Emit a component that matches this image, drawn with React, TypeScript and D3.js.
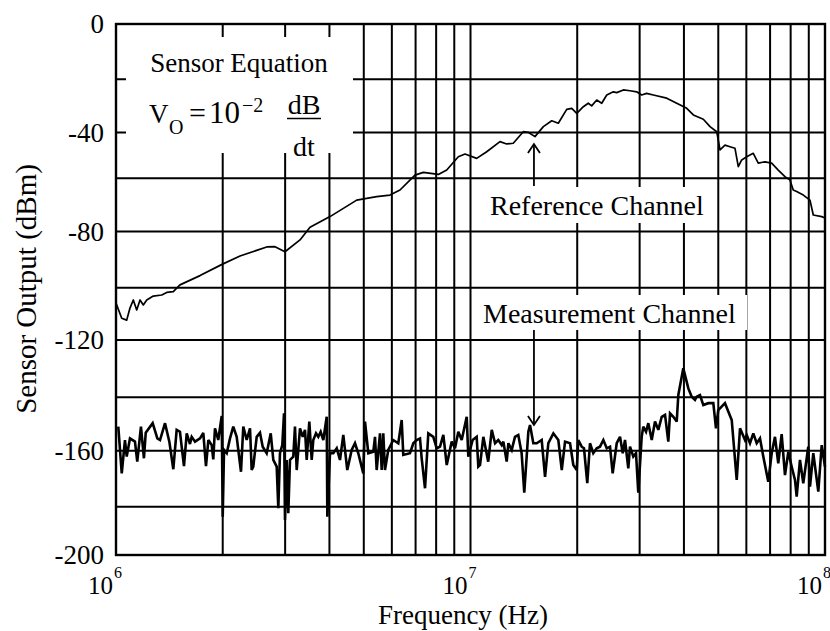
import React from "react";
import * as d3 from "d3";

// ---------- data ----------
const refFreqMHz = [1.000,1.038,1.072,1.095,1.119,1.144,1.169,1.194,1.221,1.274,1.346,1.390,1.451,1.515,1.726,1.991,2.238,2.662,2.809,2.997,3.304,3.526,4.015,4.775,5.437,5.929,6.326,6.973,7.361,8.116,8.569,9.239,9.650,10.41,11.11,12.11,12.65,13.20,14.09,14.55,15.20,16.05,16.95,17.69,18.68,19.30,19.94,20.81,21.49,21.97,22.70,23.45,24.23,25.29,25.85,26.98,28.18,29.43,30.40,31.40,32.79,35.77,38.17,40.74,42.52,45.37,47.39,49.49,50.00,50.56,52.23,53.95,55.73,56.94,58.21,60.13,62.76,64.83,67.70,70.72,73.81,77.09,79.63,81.36,83.18,86.86,90.71,92.68,97.88,100];
const refDbm = [-105.9,-111.7,-112.4,-107.8,-104.7,-108.5,-104.7,-106.6,-104.7,-103.2,-102.8,-101.8,-101.5,-99.0,-95.7,-91.7,-88.7,-85.5,-85.4,-87.2,-83.0,-78.4,-74.4,-68.2,-66.9,-66.3,-64.4,-58.6,-57.4,-58.3,-56.4,-50.6,-49.4,-51.3,-48.4,-44.0,-45.0,-44.7,-39.7,-39.9,-41.8,-37.8,-35.6,-36.5,-31.3,-30.9,-32.8,-30.3,-29.0,-30.0,-27.8,-29.0,-25.9,-24.7,-25.0,-24.0,-24.3,-24.7,-25.9,-25.3,-25.9,-27.1,-29.0,-30.9,-33.4,-35.0,-37.8,-39.7,-43.3,-47.6,-45.5,-46.2,-46.9,-54.9,-52.0,-50.6,-49.1,-53.4,-52.8,-53.4,-56.4,-59.3,-60.6,-64.4,-65.0,-66.3,-68.2,-73.8,-74.4,-74.9];

const measFreqMHz = [1.015,1.038,1.060,1.072,1.095,1.131,1.148,1.176,1.199,1.213,1.269,1.308,1.331,1.375,1.414,1.451,1.483,1.515,1.555,1.583,1.617,1.635,1.671,1.726,1.763,1.794,1.822,1.862,1.881,1.902,1.943,1.987,2.000,2.017,2.053,2.097,2.142,2.190,2.252,2.286,2.337,2.388,2.414,2.439,2.494,2.548,2.593,2.661,2.732,2.778,2.840,2.870,2.901,2.945,2.978,2.997,3.030,3.062,3.096,3.163,3.198,3.234,3.304,3.363,3.413,3.451,3.510,3.565,3.602,3.666,3.721,3.779,3.844,3.930,3.946,4.015,4.102,4.194,4.284,4.377,4.492,4.622,4.722,4.824,4.984,5.040,5.149,5.319,5.378,5.437,5.555,5.617,5.675,5.738,5.863,6.056,6.256,6.396,6.462,6.750,6.898,7.050,7.204,7.283,7.442,7.603,7.854,8.030,8.204,8.382,8.569,8.851,9.043,9.239,9.445,9.757,9.858,10.14,10.41,10.52,10.64,10.87,11.22,11.48,11.73,11.98,12.25,12.38,12.65,12.79,13.07,13.35,13.64,13.94,14.18,14.56,14.72,15.04,15.37,15.88,16.23,16.58,17.13,17.69,18.09,18.48,19.09,19.50,19.94,20.14,20.59,20.90,21.35,21.73,22.20,22.70,23.19,23.70,24.23,24.75,25.18,25.85,26.41,26.88,27.28,27.87,28.18,28.79,29.30,29.74,30.40,30.72,31.27,31.74,32.45,33.15,33.87,34.63,35.38,36.14,36.55,37.34,38.17,38.57,39.84,41.16,42.07,42.98,43.46,44.40,45.37,46.87,48.41,49.26,50.00,51.11,52.22,54.56,56.36,57.58,59.48,60.14,61.44,62.77,64.17,65.56,66.98,69.18,70.73,72.26,73.82,75.47,77.11,78.79,80.55,82.29,83.20,85.00,86.84,89.71,90.71,92.68,95.74,97.88,100];
const measDbm = [-151.0,-168.1,-156.0,-162.1,-155.4,-156.6,-163.9,-151.0,-162.7,-153.3,-149.7,-155.4,-156.0,-149.7,-156.6,-166.6,-152.2,-152.9,-165.5,-153.5,-157.5,-154.8,-156.6,-155.4,-153.3,-165.5,-156.0,-157.9,-163.1,-151.6,-156.0,-147.0,-184.1,-159.7,-160.9,-155.4,-151.0,-154.8,-167.5,-151.0,-156.0,-151.6,-166.9,-165.7,-154.8,-153.3,-158.5,-160.9,-153.5,-163.3,-165.7,-180.6,-160.9,-157.9,-146.0,-185.5,-163.3,-182.7,-163.3,-162.1,-151.0,-166.9,-151.6,-154.8,-152.2,-163.3,-149.1,-163.3,-156.0,-153.5,-154.8,-152.9,-156.0,-147.3,-184.1,-160.9,-160.9,-159.1,-163.3,-154.1,-166.9,-159.7,-157.2,-160.9,-168.1,-149.1,-160.9,-160.4,-154.8,-166.9,-153.5,-166.9,-153.5,-166.9,-159.7,-156.0,-157.2,-148.5,-161.5,-160.9,-157.2,-156.0,-155.4,-162.7,-173.4,-153.5,-154.8,-159.1,-158.5,-154.1,-165.1,-156.6,-159.1,-152.9,-156.0,-147.3,-162.1,-156.0,-154.8,-165.7,-165.1,-154.8,-163.9,-152.2,-157.2,-156.0,-157.9,-156.6,-163.9,-157.2,-159.7,-154.8,-154.1,-160.9,-175.0,-152.9,-150.4,-157.2,-157.2,-156.0,-169.3,-157.2,-153.5,-156.0,-166.9,-156.6,-157.2,-165.1,-166.9,-156.0,-158.5,-159.1,-171.6,-157.2,-160.9,-159.1,-158.5,-156.0,-159.1,-158.5,-168.1,-157.2,-154.8,-160.9,-156.0,-166.3,-158.5,-162.1,-160.9,-175.0,-154.8,-151.0,-152.9,-149.7,-156.0,-149.1,-152.2,-147.3,-146.6,-156.6,-146.0,-147.3,-149.1,-139.2,-129.9,-136.9,-139.8,-141.0,-139.8,-139.2,-142.9,-142.2,-142.2,-151.6,-144.8,-143.5,-142.2,-148.5,-170.4,-151.6,-156.0,-154.1,-157.2,-153.5,-157.2,-155.4,-162.1,-171.1,-160.9,-154.8,-164.5,-153.8,-168.7,-160.4,-165.7,-170.4,-176.4,-163.3,-171.6,-158.5,-172.8,-160.9,-174.6,-157.9,-165.7];

const yGridValues = [0, -20, -40, -60, -80, -100, -120, -140, -160, -180, -200];
const yTickLabels = [0, -40, -80, -120, -160, -200];
const xDecades = [1e6, 1e7, 1e8];
const xDecadeExponents = ["6", "7", "8"];
const minorMultipliers = [2, 3, 4, 5, 6, 7, 8, 9];

// ---------- layout ----------
const W = 830, H = 631;
const L = 116, R = 825, T = 24, B = 555;
// scanned grid is slightly uneven: piecewise-linear range follows the printed lines
const yRangePx = [24, 79.3, 132.5, 178.3, 231.5, 287.7, 340, 397.3, 450.7, 506.8, 555];
const FONT = "'Liberation Serif', 'Times New Roman', Times, serif";

export default function App() {
  const x = d3.scaleLog().domain([1e6, 1e8]).range([L, R]);
  const y = d3.scaleLinear().domain(yGridValues).range(yRangePx);

  const ref = refFreqMHz.map((f, i) => [f * 1e6, refDbm[i]] as [number, number]);
  const n = Math.min(measFreqMHz.length, measDbm.length);
  const meas = measFreqMHz.slice(0, n).map((f, i) => [f * 1e6, measDbm[i]] as [number, number]);

  const line = d3.line<[number, number]>().x(d => x(d[0])).y(d => y(d[1]));

  const minorX: number[] = [];
  [1e6, 1e7].forEach(d => minorMultipliers.forEach(m => minorX.push(d * m)));
  const majorX = [1e7];

  const arrowX = x(1.51e7);

  return (
    <svg width={W} height={H} style={{ position: "absolute", left: 0, top: 0, background: "#fff" }} fontFamily={FONT}>
      <rect x={0} y={0} width={W} height={H} fill="#fff" />
      {/* grid */}
      <g stroke="#000" strokeWidth={2}>
        {yGridValues.map(v => (
          <line key={"h" + v} x1={L} x2={R} y1={y(v)} y2={y(v)} />
        ))}
        {minorX.concat(majorX).map(v => (
          <line key={"v" + v} x1={x(v)} x2={x(v)} y1={T} y2={B} />
        ))}
      </g>
      {/* white label backgrounds */}
      <rect x={126} y={37} width={227} height={116} fill="#fff" />
      <rect x={480} y={187} width={232} height={36} fill="#fff" />
      <rect x={480} y={295} width={267} height={35} fill="#fff" />

      {/* curves */}
      <path d={line(ref) || ""} fill="none" stroke="#000" strokeWidth={1.7} strokeLinejoin="round" />
      <path d={line(meas) || ""} fill="none" stroke="#000" strokeWidth={2.6} strokeLinejoin="miter" strokeMiterlimit={3} />

      {/* frame */}
      <rect x={L} y={T} width={R - L} height={B - T} fill="none" stroke="#000" strokeWidth={2.4} />

      {/* y tick labels */}
      {yTickLabels.map(v => (
        <text key={"yl" + v} x={104} y={y(v)} dy="0.34em" textAnchor="end" fontSize={27}>
          {v === 0 ? "0" : "-" + Math.abs(v)}
        </text>
      ))}
      {/* x tick labels */}
      {xDecades.map((v, i) => (
        <g key={"xl" + v}>
          <text x={x(v) - 3} y={594} textAnchor="end" fontSize={25}>10</text>
          <text x={x(v) - 2} y={578} fontSize={16}>{xDecadeExponents[i]}</text>
        </g>
      ))}

      {/* axis titles */}
      <text x={463} y={624} textAnchor="middle" fontSize={27}>Frequency (Hz)</text>
      <text transform="translate(36,289) rotate(-90)" textAnchor="middle" fontSize={29}>Sensor Output (dBm)</text>

      {/* sensor equation */}
      <text x={239} y={72} textAnchor="middle" fontSize={27}>Sensor Equation</text>
      <text x={149} y={123} fontSize={27}>V</text>
      <text x={169} y={134} fontSize={20}>O</text>
      <text x={189} y={123} fontSize={30}>=</text>
      <text x={209} y={123} fontSize={31}>10</text>
      <text x={242} y={112} fontSize={20}>−2</text>
      <text x={304} y={114} textAnchor="middle" fontSize={28}>dB</text>
      <line x1={287} x2={321} y1={118.5} y2={118.5} stroke="#000" strokeWidth={1.5} />
      <text x={304} y={156} textAnchor="middle" fontSize={28}>dt</text>

      {/* channel labels */}
      <text x={490} y={215} fontSize={28}>Reference Channel</text>
      <text x={483} y={323} fontSize={28}>Measurement Channel</text>

      {/* arrows */}
      <g stroke="#000" strokeWidth={1.8} fill="none">
        <line x1={arrowX} x2={arrowX} y1={186} y2={145} />
        <polyline points={`${arrowX - 6},${153} ${arrowX},${144} ${arrowX + 6},${153}`} />
        <line x1={arrowX} x2={arrowX} y1={330} y2={424} />
        <polyline points={`${arrowX - 6},${416} ${arrowX},${425} ${arrowX + 6},${416}`} />
      </g>
    </svg>
  );
}
